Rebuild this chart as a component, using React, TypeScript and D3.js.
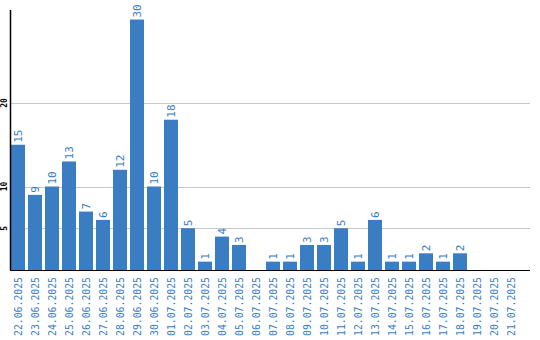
import React from "react";
import * as d3 from "d3";

const categories = [
  "22.06.2025","23.06.2025","24.06.2025","25.06.2025","26.06.2025","27.06.2025","28.06.2025","29.06.2025","30.06.2025",
  "01.07.2025","02.07.2025","03.07.2025","04.07.2025","05.07.2025","06.07.2025","07.07.2025","08.07.2025","09.07.2025",
  "10.07.2025","11.07.2025","12.07.2025","13.07.2025","14.07.2025","15.07.2025","16.07.2025","17.07.2025","18.07.2025",
  "19.07.2025","20.07.2025","21.07.2025",
];
const values = [15, 9, 10, 13, 7, 6, 12, 30, 10, 18, 5, 1, 4, 3, 0, 1, 1, 3, 3, 5, 1, 6, 1, 1, 2, 1, 2, 0, 0, 0];
const yTicks = [5, 10, 20];

const W = 540;
const H = 340;
const BLUE = "#3a7dc3";

export default function App() {
  const x = d3
    .scaleBand<string>()
    .domain(categories)
    .range([9.5, 519.5])
    .paddingInner(3 / 17)
    .paddingOuter(1.5 / 17);
  const y = d3.scaleLinear().domain([0, 31.14]).range([270, 10]);
  const bw = x.bandwidth();
  const mono = "'DejaVu Sans Mono', monospace";

  return (
    <svg width={W} height={H} style={{ position: "absolute", left: 0, top: 0, background: "#fff" }}>
      {yTicks.map((t) => (
        <g key={t}>
          <line x1={10} x2={530} y1={Math.round(y(t)) + 0.5} y2={Math.round(y(t)) + 0.5} stroke="#c8c8c8" strokeWidth={1} />
          <text
            transform={`translate(7,${y(t)}) rotate(-90)`}
            textAnchor="middle"
            fontFamily={mono}
            fontSize={8}
            fontWeight="bold"
            fill="#000"
          >
            {t}
          </text>
        </g>
      ))}
      {categories.map((c, i) => {
        const v = values[i];
        const x0 = x(c)!;
        const cx = x0 + bw / 2;
        return (
          <g key={c}>
            {v > 0 && (
              <rect x={x0} y={y(v)} width={bw} height={y(0) - y(v)} fill={BLUE} />
            )}
            {v > 0 && (
              <text
                transform={`translate(${cx + 4},${y(v) - 2}) rotate(-90)`}
                textAnchor="start"
                fontFamily={mono}
                fontSize={11}
                fill={BLUE}
              >
                {v}
              </text>
            )}
            <text
              transform={`translate(${cx + 4},277) rotate(-90)`}
              textAnchor="end"
              fontFamily={mono}
              fontSize={11}
              fill={BLUE}
              textLength={59}
              lengthAdjust="spacingAndGlyphs"
            >
              {c}
            </text>
          </g>
        );
      })}
      <line x1={10.5} x2={10.5} y1={10} y2={270} stroke="#000" strokeWidth={1.5} />
      <line x1={10} x2={530} y1={270.5} y2={270.5} stroke="#000" strokeWidth={1} />
    </svg>
  );
}
